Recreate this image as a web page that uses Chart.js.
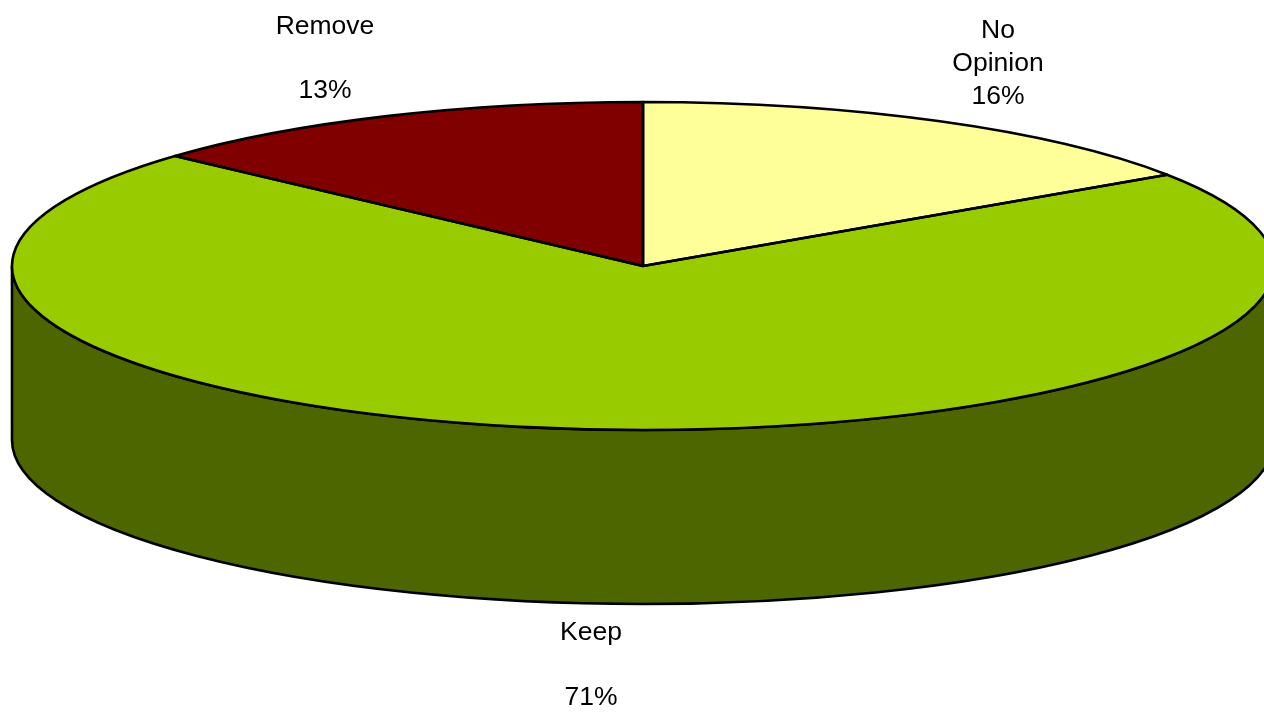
<!DOCTYPE html>
<html>
<head>
<meta charset="utf-8">
<title>Pie</title>
<script src="https://cdn.jsdelivr.net/npm/chart.js@4"></script>
<style>
  html, body { margin: 0; padding: 0; background: #fff; overflow: hidden; }
  canvas { display: block; }
</style>
</head>
<body>
<canvas id="pieChart" width="1264" height="713"></canvas>
<script>
// data, clockwise from 12 o'clock
var categories = ['No Opinion', 'Keep', 'Remove'];
var shares = [15.6, 71.1, 13.3];
var percentLabels = ['16%', '71%', '13%'];

var topColors = ['#FFFF99', '#99CC00', '#800000'];
var sideColors = ['#808050', '#4D6600', '#400000'];

// label text blocks, centre x and first line y, one entry per category
var labelLines = [['No', 'Opinion', percentLabels[0]], ['Keep', '', percentLabels[1]], ['Remove', '', percentLabels[2]]];
var labelSpots = [{ x: 998, y: 31, gap: 33 }, { x: 591, y: 633, gap: 32.5 }, { x: 325, y: 27, gap: 32 }];

var pieRadius = 631;
var squash = 164 / 631;
var depth = 174;
var edgeWidth = 2.6;

function arcProps(chart) {
    return chart.getDatasetMeta(0).data.map(function (el) {
        return el.getProps(['x', 'y', 'startAngle', 'endAngle', 'outerRadius'], true);
    });
}

var tiltedPie = {
    id: 'tiltedPie',
    // side wall goes under the top face, only the front half can be seen
    beforeDatasetsDraw: function (chart) {
        var ctx = chart.ctx;
        arcProps(chart).forEach(function (a, i) {
            var from = Math.max(a.startAngle, 0);
            var to = Math.min(a.endAngle, Math.PI);
            if (to <= from) return;
            var ry = a.outerRadius * squash;
            ctx.beginPath();
            ctx.ellipse(a.x, a.y, a.outerRadius, ry, 0, from, to);
            ctx.ellipse(a.x, a.y + depth, a.outerRadius, ry, 0, to, from, true);
            ctx.closePath();
            ctx.fillStyle = sideColors[i];
            ctx.fill();
            ctx.lineWidth = edgeWidth;
            ctx.strokeStyle = '#000';
            ctx.stroke();
        });
        // squash the arcs the library is about to draw
        var c = arcProps(chart)[0];
        ctx.save();
        ctx.translate(c.x, c.y);
        ctx.scale(1, squash);
        ctx.translate(-c.x, -c.y);
    },
    afterDatasetsDraw: function (chart) {
        var ctx = chart.ctx;
        ctx.restore();
        // outlines here so the line keeps its width after the squash
        arcProps(chart).forEach(function (a) {
            var ry = a.outerRadius * squash;
            ctx.beginPath();
            ctx.moveTo(a.x, a.y);
            ctx.ellipse(a.x, a.y, a.outerRadius, ry, 0, a.startAngle, a.endAngle);
            ctx.closePath();
            ctx.lineWidth = edgeWidth;
            ctx.lineJoin = 'round';
            ctx.strokeStyle = '#000';
            ctx.stroke();
        });
    },
    afterDraw: function (chart) {
        var ctx = chart.ctx;
        ctx.save();
        ctx.font = '26.5px "Liberation Sans", Arial, sans-serif';
        ctx.fillStyle = '#000';
        ctx.textAlign = 'center';
        ctx.textBaseline = 'middle';
        labelLines.forEach(function (lines, i) {
            var spot = labelSpots[i];
            lines.forEach(function (line, n) {
                ctx.fillText(line, spot.x, spot.y + n * spot.gap);
            });
        });
        ctx.restore();
    }
};

var ctx = document.getElementById('pieChart').getContext('2d');
var pieChart = new Chart(ctx, {
    type: 'pie',
    data: {
        labels: categories,
        datasets: [{
            data: shares,
            backgroundColor: topColors,
            borderWidth: 0,
            clip: false,
            radius: pieRadius
        }]
    },
    options: {
        responsive: false,
        animation: false,
        layout: { padding: { left: 22, bottom: 181 } },
        plugins: {
            legend: { display: false },
            tooltip: { enabled: false }
        }
    },
    plugins: [tiltedPie]
});
</script>
</body>
</html>
